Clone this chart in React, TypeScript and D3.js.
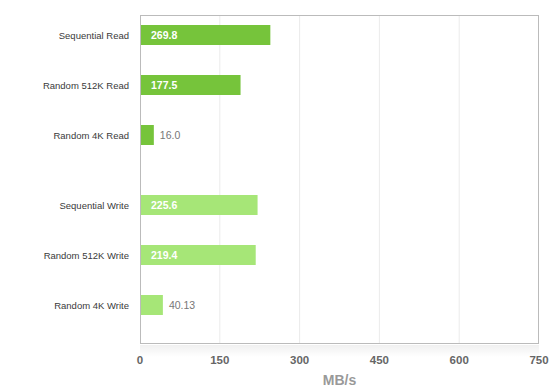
import React from "react";
import * as d3 from "d3";

const readCategories = ["Sequential Read", "Random 512K Read", "Random 4K Read"];
const readValues = [245, 189, 26];
const readLabels = ["269.8", "177.5", "16.0"];

const writeCategories = ["Sequential Write", "Random 512K Write", "Random 4K Write"];
const writeValues = [221, 217.5, 43];
const writeLabels = ["225.6", "219.4", "40.13"];

const xTicks = [0, 150, 300, 450, 600, 750];
const axisTitle = "MB/s";

const W = 560;
const H = 390;
const margin = { top: 15, right: 21, bottom: 46, left: 140 };
const font = "'Liberation Sans', Arial, Helvetica, sans-serif";

export default function App() {
  const plotW = W - margin.left - margin.right;
  const plotH = H - margin.top - margin.bottom;

  const x = d3.scaleLinear().domain([0, 750]).range([0, plotW]);

  const groups = [
    { cats: readCategories, vals: readValues, labels: readLabels, color: "#76c43b", range: [0, 140] },
    { cats: writeCategories, vals: writeValues, labels: writeLabels, color: "#a6e677", range: [170, 310] },
  ];

  return (
    <svg width={W} height={H} style={{ position: "fixed", left: 0, top: 0 }}>
      <defs>
        <linearGradient id="shadow" x1="0" y1="0" x2="0" y2="1">
          <stop offset="0%" stopColor="#000" stopOpacity={0.06} />
          <stop offset="100%" stopColor="#000" stopOpacity={0} />
        </linearGradient>
      </defs>
      <rect width={W} height={H} fill="#fff" />
      <g transform={`translate(${margin.left},${margin.top})`}>
        <rect x={0} y={plotH + 1} width={plotW} height={12} fill="url(#shadow)" />
        {xTicks.slice(1, -1).map((t) => (
          <line key={t} x1={x(t)} x2={x(t)} y1={0} y2={plotH} stroke="#ebebeb" strokeWidth={1} />
        ))}
        {groups.map((g, gi) => {
          const y = d3
            .scaleBand<string>()
            .domain(g.cats)
            .range(g.range as [number, number])
            .paddingInner(0.6)
            .paddingOuter(0.2);
          return (
            <g key={gi}>
              {g.cats.map((c, i) => {
                const y0 = y(c)!;
                const bw = x(g.vals[i]);
                const inside = bw > 60;
                const cy = y0 + y.bandwidth() / 2;
                return (
                  <g key={c}>
                    <text x={-11} y={cy + 3.5} textAnchor="end" fontFamily={font} fontSize={9.5} fill="#3a3a3a">
                      {c}
                    </text>
                    <rect x={0} y={y0} width={bw} height={y.bandwidth()} fill={g.color} />
                    <text
                      x={inside ? 11 : bw + 6}
                      y={cy + 4}
                      fontFamily={font}
                      fontSize={10.5}
                      fontWeight={inside ? "bold" : "normal"}
                      fill={inside ? "#fff" : "#777"}
                    >
                      {g.labels[i]}
                    </text>
                  </g>
                );
              })}
            </g>
          );
        })}
        <rect x={0.5} y={0.5} width={plotW - 1} height={plotH - 1} fill="none" stroke="#bbb" strokeWidth={1} />
        {xTicks.map((t) => (
          <text key={t} x={x(t)} y={plotH + 20} textAnchor="middle" fontFamily={font} fontSize={11.5} fontWeight="bold" fill="#666">
            {t}
          </text>
        ))}
        <text x={x(375)} y={plotH + 41} textAnchor="middle" fontFamily={font} fontSize={14} fontWeight="bold" fill="#999">
          {axisTitle}
        </text>
      </g>
    </svg>
  );
}
